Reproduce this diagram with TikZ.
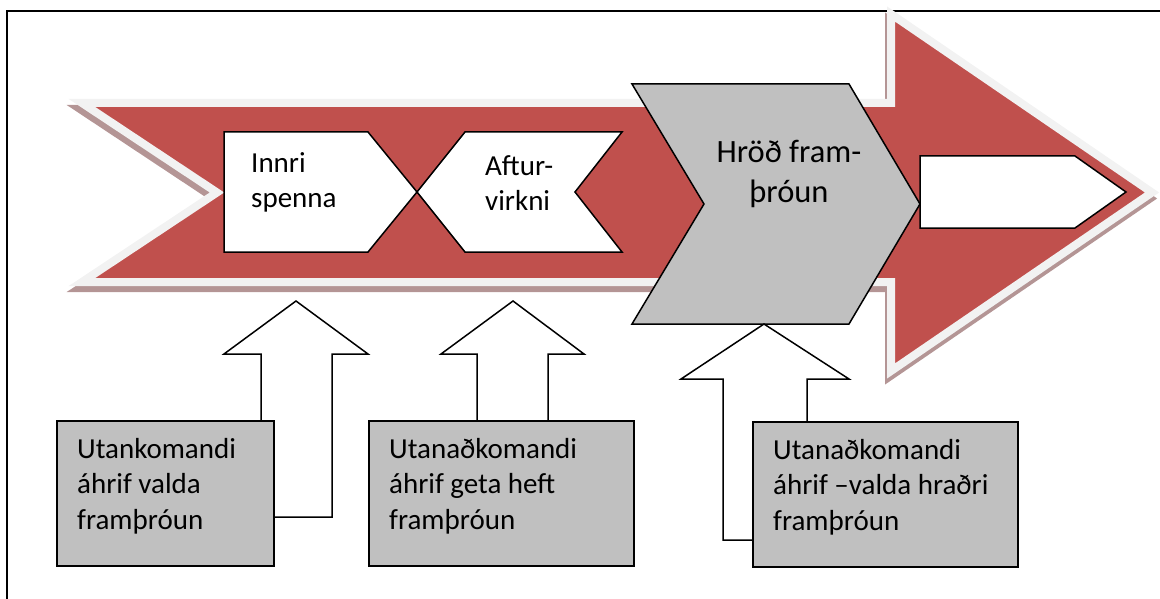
\documentclass[tikz,border=0pt]{standalone}
\usepackage{fontspec}
\setmainfont{Carlito}
\usetikzlibrary{positioning,calc}

\definecolor{arrowred}{HTML}{C0504D}
\definecolor{rimgray}{HTML}{F2F2F2}
\definecolor{shadowred}{HTML}{B49595}
\definecolor{boxgray}{HTML}{C0C0C0}

\begin{document}
\begin{tikzpicture}[
    x=1pt, y=-1pt,
    bigarrow/.style={line width=8pt, line join=miter},
    stage/.style={draw=black, line width=1.5pt, line join=miter},
    uparrow/.style={draw=black, fill=white, line width=1.5pt, line join=miter},
    infbox/.style={rectangle, draw=black, line width=2pt, fill=boxgray, anchor=north west, minimum height=145pt, inner sep=0pt},
    txt/.style={font=\fontsize{29}{35.5}\selectfont, inner sep=0pt, anchor=base west, align=left}
]
\useasboundingbox (0,0) rectangle (1160,599);

% Frame
\draw[line width=1.3pt] (7,610) -- (7,11) -- (1170,11);

% Big arrow with shadow
\filldraw[bigarrow, shadowred, xshift=-2pt, yshift=-6pt]
    (82,103) -- (891,103) -- (891,14) -- (1152,192.5) -- (891,371)
    -- (891,282) -- (82,282) -- (217,192.5) -- cycle;
\filldraw[bigarrow, draw=rimgray, fill=arrowred]
    (82,103) -- (891,103) -- (891,14) -- (1152,192.5) -- (891,371)
    -- (891,282) -- (82,282) -- (217,192.5) -- cycle;

% Stages
\filldraw[stage, fill=white] (224,132) -- (368,132) -- (417,192) -- (368,252) -- (224,252) -- cycle;
\filldraw[stage, fill=white] (417,192) -- (465,132) -- (622,132) -- (575,192) -- (622,252) -- (465,252) -- cycle;
\filldraw[stage, fill=boxgray] (632,84) -- (849,84) -- (920,204) -- (849,324) -- (632,324) -- (704,204) -- cycle;
\filldraw[stage, fill=white] (920,156) -- (1075,156) -- (1126,192) -- (1075,228) -- (920,228) -- cycle;

% base anchor sits on the last line
\node[txt] (spenna) at (251,207.5) {Innri\\spenna};
\node[txt] (virkni) at (485,210.5) {Aftur-\\virkni};
\node[txt, font=\fontsize{32.5}{39.5}\selectfont, anchor=base, align=center] (hrod) at (789,202) {Hröð fram-\\þróun};

% Up arrows
\filldraw[uparrow] (261,517) -- (261,354) -- (224,354) -- (296,301) -- (368,354) -- (332,354) -- (332,517) -- cycle;
\filldraw[uparrow] (477,450) -- (477,354) -- (441,354) -- (513,301) -- (584,354) -- (548,354) -- (548,450) -- cycle;
\filldraw[uparrow] (723,540) -- (723,379) -- (681,379) -- (764,324) -- (849,379) -- (807,379) -- (807,540) -- cycle;

% Influence boxes
\node[infbox, minimum width=217pt] (utan1) at (56,420) {};
\node[infbox, minimum width=265pt] (utan2) at (368,420) {};
\node[infbox, minimum width=265pt] (utan3) at (752,421) {};

\node[txt] (utan1txt) at ([xshift=21pt,yshift=-109pt]utan1.north west) {Utankomandi\\áhrif valda\\framþróun};
\node[txt] (utan2txt) at ([xshift=21pt,yshift=-109pt]utan2.north west) {Utanaðkomandi\\áhrif geta heft\\framþróun};
\node[txt] (utan3txt) at ([xshift=21pt,yshift=-109pt]utan3.north west) {Utanaðkomandi\\áhrif –valda hraðri\\framþróun};

\end{tikzpicture}
\end{document}
